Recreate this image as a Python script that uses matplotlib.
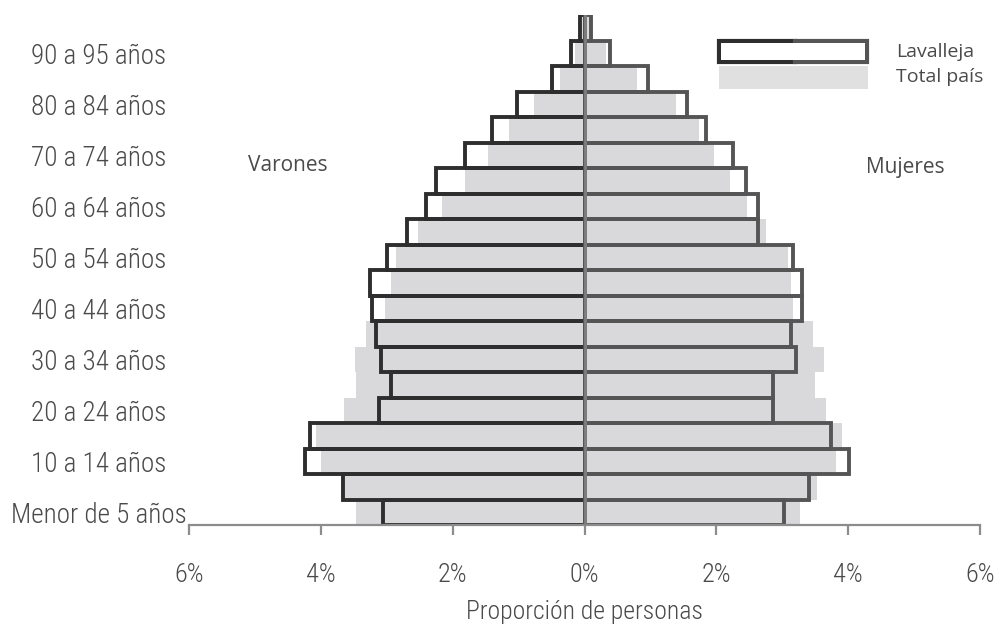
import numpy as np
import matplotlib.pyplot as plt
from matplotlib.patches import Rectangle

# grupos de edad, de 0-4 hasta 95-99
age_groups = ["0-4", "5-9", "10-14", "15-19", "20-24", "25-29", "30-34", "35-39",
              "40-44", "45-49", "50-54", "55-59", "60-64", "65-69", "70-74",
              "75-79", "80-84", "85-89", "90-94", "95-99"]
tick_labels = ["Menor de 5 años", "10 a 14 años", "20 a 24 años", "30 a 34 años",
               "40 a 44 años", "50 a 54 años", "60 a 64 años", "70 a 74 años",
               "80 a 84 años", "90 a 95 años"]

# proporción de personas (%)
lav_varones = [3.06, 3.66, 4.24, 4.17, 3.12, 2.93, 3.09, 3.16, 3.22, 3.26,
               2.99, 2.69, 2.41, 2.25, 1.82, 1.41, 1.03, 0.50, 0.20, 0.07]
lav_mujeres = [3.03, 3.40, 4.02, 3.74, 2.86, 2.86, 3.21, 3.13, 3.30, 3.30,
               3.17, 2.63, 2.63, 2.45, 2.26, 1.85, 1.55, 0.96, 0.39, 0.10]
pais_varones = [3.46, 3.63, 3.99, 4.07, 3.65, 3.46, 3.48, 3.31, 3.02, 2.93,
                2.86, 2.53, 2.16, 1.82, 1.47, 1.14, 0.77, 0.37, 0.15, 0.04]
pais_mujeres = [3.27, 3.53, 3.81, 3.90, 3.67, 3.50, 3.64, 3.47, 3.17, 3.13,
                3.08, 2.76, 2.46, 2.20, 1.96, 1.73, 1.39, 0.79, 0.32, 0.08]

cond = ["Roboto Condensed", "Roboto", "DejaVu Sans"]
plain = ["Open Sans", "DejaVu Sans"]
txt = "#4a4a4a"
gris = "#d9d9db"
oscuro = "#2e2e2e"
medio = "#555555"

fig = plt.figure(figsize=(9.98, 6.25), dpi=100)
W, H = 998, 625
ax = fig.add_axes([189 / W, (625 - 525) / H, 791 / W, 510 / H])

y = np.arange(len(age_groups))
ax.barh(y, [-v for v in pais_varones], height=1.0, color=gris, zorder=1)
ax.barh(y, pais_mujeres, height=1.0, color=gris, zorder=1)
ax.barh(y, [-v for v in lav_varones], height=1.0, fill=False,
        edgecolor=oscuro, linewidth=2.8, zorder=2)
ax.barh(y, lav_mujeres, height=1.0, fill=False,
        edgecolor=medio, linewidth=2.8, zorder=2)
ax.axvline(0, color="#7f7f7f", linewidth=2.0, zorder=3)

ax.set_xlim(-6, 6)
ax.set_ylim(-0.5, 19.5)

xt = [-6, -4, -2, 0, 2, 4, 6]
ax.set_xticks(xt)
ax.set_xticklabels([f"{abs(v)}%" for v in xt], family=cond, fontsize=19,
                   fontweight="light", color=txt)
ax.tick_params(axis="x", direction="out", length=7, width=1.6, color="#8c8c8c", pad=20)

ax.set_yticks(y[::2])
ax.set_yticklabels(tick_labels, family=cond, fontsize=19.5, fontweight="light", color=txt)
ax.tick_params(axis="y", length=0, pad=65)
for lab in ax.get_yticklabels():
    lab.set_horizontalalignment("center")

for s in ["left", "right", "top"]:
    ax.spines[s].set_visible(False)
ax.spines["bottom"].set_color("#8c8c8c")
ax.spines["bottom"].set_linewidth(1.6)

ax.set_xlabel("Proporción de personas", family=cond, fontsize=18.5, fontweight="light",
              color=txt, labelpad=10)

ax.text(-4.5, 13.6, "Varones", family=plain, fontsize=15, color=txt, ha="center", va="center")
ax.text(4.87, 13.5, "Mujeres", family=plain, fontsize=15, color=txt, ha="center", va="center")

# leyenda
def fx(px):
    return px / W

def fy(py):
    return 1 - py / H

fig.patches.append(Rectangle((fx(719), fy(89)), fx(149), 23 / H, transform=fig.transFigure,
                             facecolor="#e0e0e0", edgecolor="none"))
fig.patches.append(Rectangle((fx(719), fy(62)), fx(76), 21 / H, transform=fig.transFigure,
                             facecolor="white", edgecolor=oscuro, linewidth=3))
fig.patches.append(Rectangle((fx(795), fy(62)), fx(72), 21 / H, transform=fig.transFigure,
                             facecolor="white", edgecolor=medio, linewidth=3))
fig.patches.append(Rectangle((fx(721), fy(60)), fx(144), 17 / H, transform=fig.transFigure,
                             facecolor="white", edgecolor="none"))
fig.text(fx(896), fy(52), "Lavalleja", family=plain, fontsize=14, color=txt, va="center")
fig.text(fx(896), fy(77), "Total país", family=plain, fontsize=14, color=txt, va="center")

fig.savefig("out.png", dpi=100)
